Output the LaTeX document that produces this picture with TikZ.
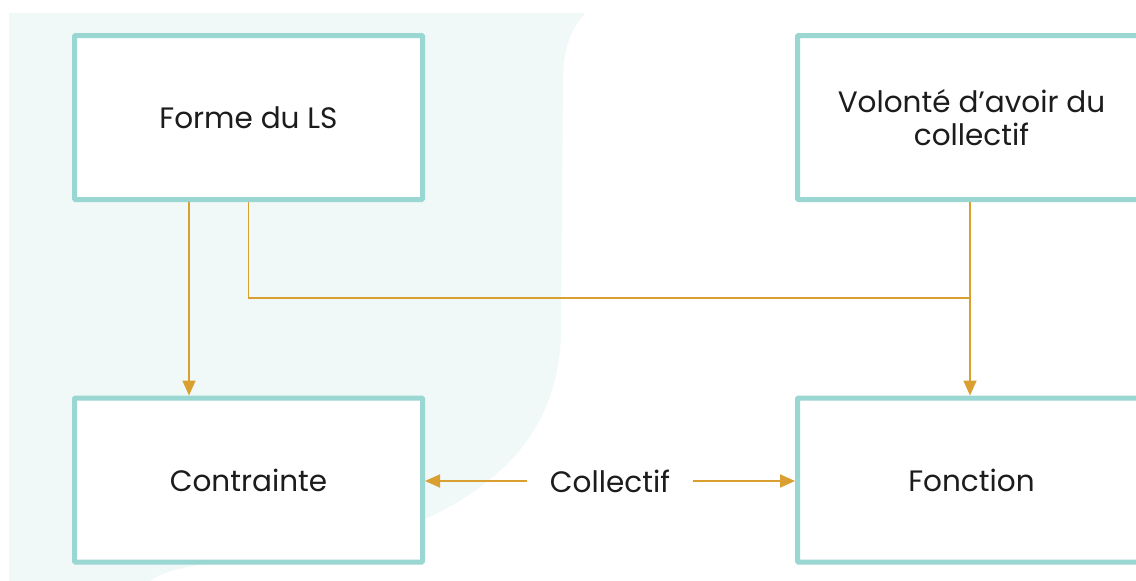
\documentclass[tikz,border=0pt]{standalone}
\usepackage{fontspec}
\setmainfont{Poppins}
\usetikzlibrary{arrows.meta}
\definecolor{tealline}{HTML}{9BD7D2}
\definecolor{blobfill}{HTML}{F0F9F8}
\definecolor{flow}{HTML}{DA9F31}
\definecolor{ink}{HTML}{1C1C1C}
\tikzset{
  box/.style={draw=tealline, line width=5pt, fill=white, rounded corners=1pt,
    minimum width=348pt, minimum height=164pt, align=center,
    font=\fontsize{29.5}{33}\selectfont, text=ink},
  flowline/.style={draw=flow, line width=1.8pt},
  flowarrow/.style={flowline, -{Triangle[length=15pt,width=13pt]}},
  label/.style={font=\fontsize{29.5}{33}\selectfont, text=ink, inner xsep=23pt, inner ysep=0pt}
}
\begin{document}
\begin{tikzpicture}[x=1pt, y=-1pt]
  \useasboundingbox (0,0) rectangle (1136,581);
  \fill[white] (0,0) rectangle (1136,581);
  % soft background shape behind the left column
  \fill[blobfill] (9,581) -- (9,13) -- (585,13)
    .. controls (570,30) and (563,50) .. (563,80)
    -- (561,320)
    .. controls (563,400) and (530,470) .. (427,518)
    .. controls (330,560) and (180,555) .. (150,581) -- cycle;

  % boxes
  \node[box] (forme)    at (248.5,117.5) {Forme du LS};
  \node[box] (contr)    at (248.5,480)   {Contrainte};
  \node[box] (volonte)  at (971.5,117.5) {Volonté d’avoir du\\collectif};
  \node[box] (fonction) at (971.5,480)   {Fonction};
  \node[label] (coll)   at (610,481)     {Collectif};

  % connectors
  \coordinate (xa) at (189,0);
  \coordinate (xb) at (248.5,0);
  \coordinate (xc) at (970,0);
  \coordinate (join) at (970,298);
  \draw[flowarrow] (forme.south -| xa) -- (contr.north -| xa);
  \draw[flowline] (forme.south -| xb) |- (join);
  \draw[flowarrow] (volonte.south -| xc) -- (fonction.north -| xc);
  \draw[flowarrow] (coll.west) -- (contr.east |- coll.west);
  \draw[flowarrow] (coll.east) -- (fonction.west |- coll.east);
\end{tikzpicture}
\end{document}
